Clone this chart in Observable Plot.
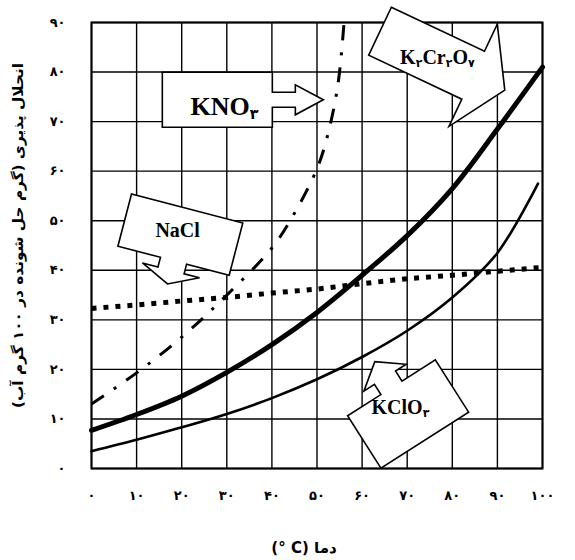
<!DOCTYPE html>
<html>
<head>
<meta charset="utf-8">
<script src="https://cdn.jsdelivr.net/npm/d3@7"></script>
<script src="https://cdn.jsdelivr.net/npm/@observablehq/plot@0.6"></script>
<style>
  html, body { margin: 0; padding: 0; background: #fff; }
</style>
</head>
<body>
<div id="chart"></div>
<script>
// ---- data ----
const xTicks = [0, 10, 20, 30, 40, 50, 60, 70, 80, 90, 100];
const yTicks = [0, 10, 20, 30, 40, 50, 60, 70, 80, 90];

const temps = [0, 10, 20, 30, 40, 50, 60, 70, 80, 90, 100];
const naclValues = [32.3, 33.0, 33.8, 34.5, 35.4, 36.2, 37.3, 38.3, 39.0, 39.8, 40.6];
const k2cr2o7Values = [7.7, 10.9, 14.6, 19.4, 25.0, 31.5, 39.0, 47.0, 56.5, 68.5, 81.0];

const kclo3Temps = [0, 10, 20, 30, 40, 50, 60, 70, 80, 90, 99];
const kclo3Values = [3.5, 5.8, 8.3, 11.0, 14.2, 18.0, 22.5, 27.8, 34.5, 43.5, 57.5];

const kno3Temps = [0, 10, 20, 30, 40, 45, 50, 52, 54, 55, 56];
const kno3Values = [13.0, 19.3, 26.5, 35.0, 44.5, 51.5, 60.5, 66.0, 74.0, 80.0, 90.0];

const xTitle = "\u202Bدما (C °)\u202C";
const yTitle = "\u202Bانحلال پذیری (گرم حل شونده در ۱۰۰ گرم آب)\u202C";

// callout annotations (anchor in data units)
const callouts = [
  {label: "KNO۳", x: 27.9, y: 74.4, tx: 29.5, ty: 73.0, size: 26},
  {label: "NaCl", x: 19.7, y: 47.2, tx: 19.1, ty: 48.0, size: 20},
  {label: "K۲Cr۲O۷", x: 74.3, y: 83.8, tx: 76.7, ty: 82.9, size: 20},
  {label: "KClO۳", x: 70.2, y: 11.0, tx: 68.5, ty: 12.3, size: 20}
];
// callout shapes (pixels)
const calloutShapes = [
  {angle: 0, w: 110, h: 55, side: "right", sw: 15, sl: 23, hw: 30, hl: 28},
  {angle: 14.6, w: 115, h: 54, side: "bottom", sw: 27, sl: 10, hw: 59, hl: 14},
  {angle: 25.3, w: 103, h: 53, side: "right", sw: 53, sl: 0, hw: 113, hl: 35},
  {angle: -32.5, w: 104, h: 62, side: "top", sw: 25, sl: 12, hw: 50, hl: 19}
];

// ---- helpers ----
const faDigits = "۰۱۲۳۴۵۶۷۸۹";
const fa = (n) => String(n).replace(/[0-9]/g, (d) => faDigits[+d]);

function calloutSymbol(c) {
  return {
    draw(ctx) {
      let W = c.w, H = c.h, rot = c.angle;
      if (c.side === "bottom") { W = c.h; H = c.w; rot += 90; }
      else if (c.side === "top") { W = c.h; H = c.w; rot -= 90; }
      const o = c.offset || 0, x0 = W / 2;
      const pts = [
        [-W / 2, -H / 2], [W / 2, -H / 2],
        [x0, o - c.sw / 2], [x0 + c.sl, o - c.sw / 2], [x0 + c.sl, o - c.hw / 2],
        [x0 + c.sl + c.hl, o],
        [x0 + c.sl, o + c.hw / 2], [x0 + c.sl, o + c.sw / 2], [x0, o + c.sw / 2],
        [W / 2, H / 2], [-W / 2, H / 2]
      ];
      const a = rot * Math.PI / 180, cs = Math.cos(a), sn = Math.sin(a);
      pts.forEach(([x, y], i) => {
        const X = x * cs - y * sn, Y = x * sn + y * cs;
        if (i) ctx.lineTo(X, Y); else ctx.moveTo(X, Y);
      });
      ctx.closePath();
    }
  };
}

const naclData = temps.map((t, i) => ({t, v: naclValues[i]}));
const k2Data = temps.map((t, i) => ({t, v: k2cr2o7Values[i]}));
const kclo3Data = kclo3Temps.map((t, i) => ({t, v: kclo3Values[i]}));
const kno3Data = kno3Temps.map((t, i) => ({t, v: kno3Values[i]}));

const calloutMarks = [];
callouts.forEach((c, i) => {
  calloutMarks.push(Plot.dot([c], {x: "x", y: "y", symbol: calloutSymbol(calloutShapes[i]), fill: "white", stroke: "black", strokeWidth: 1.6}));
});
callouts.forEach((c) => {
  calloutMarks.push(Plot.text([c], {x: "tx", y: "ty", text: "label", fontFamily: "Liberation Serif", fontWeight: "bold", fontSize: c.size, fill: "black"}));
});

const chart = Plot.plot({
  width: 575,
  height: 560,
  marginTop: 22,
  marginBottom: 92,
  marginLeft: 91,
  marginRight: 33,
  x: {domain: [0, 100], ticks: xTicks, tickFormat: fa, tickSize: 0, tickPadding: 22, label: null},
  y: {domain: [0, 90], ticks: yTicks, tickFormat: fa, tickSize: 0, tickPadding: 26, label: null},
  style: {fontFamily: "DejaVu Sans", fontSize: "13px", fontWeight: "bold", background: "white", color: "black"},
  marks: [
    Plot.ruleX(xTicks, {stroke: "black", strokeWidth: 1.4}),
    Plot.ruleY(yTicks, {stroke: "black", strokeWidth: 1.4}),
    Plot.frame({stroke: "black", strokeWidth: 2}),
    Plot.line(naclData, {x: "t", y: "v", stroke: "black", strokeWidth: 5, strokeDasharray: "5,7", strokeLinecap: "butt"}),
    Plot.line(kclo3Data, {x: "t", y: "v", stroke: "black", strokeWidth: 2.6, curve: "catmull-rom"}),
    Plot.line(k2Data, {x: "t", y: "v", stroke: "black", strokeWidth: 5, curve: "catmull-rom"}),
    Plot.line(kno3Data, {x: "t", y: "v", stroke: "black", strokeWidth: 3, curve: "catmull-rom", strokeDasharray: "15,12,3,12", strokeLinecap: "butt"}),
    ...calloutMarks,
    Plot.text([xTitle], {frameAnchor: "bottom", dy: 80, dx: -13, text: (d) => d, textAnchor: "middle", lineAnchor: "middle", fontSize: 15, fontFamily: "DejaVu Sans", fill: "black"}),
    Plot.text([yTitle], {frameAnchor: "left", dx: -73, dy: -10, rotate: -90, text: (d) => d, textAnchor: "middle", lineAnchor: "middle", fontSize: 14, fontFamily: "DejaVu Sans", fill: "black"})
  ]
});

chart.querySelectorAll("text").forEach((t) => {
  if (t.querySelector("tspan")) return;
  const s = t.textContent;
  // fit the long Persian y title to the reference length
  if (s === yTitle) {
    t.setAttribute("textLength", "345");
    t.setAttribute("lengthAdjust", "spacingAndGlyphs");
    return;
  }
  // subscript digits in chemical formulas
  if (!(/[A-Za-z]/.test(s) && /[۰-۹]/.test(s))) return;
  t.textContent = "";
  let sub = false;
  for (const ch of s) {
    const isD = /[۰-۹]/.test(ch);
    const ts = document.createElementNS("http://www.w3.org/2000/svg", "tspan");
    ts.textContent = ch;
    if (isD) {
      ts.setAttribute("font-size", "0.55em");
      ts.setAttribute("font-family", "DejaVu Sans");
      if (!sub) ts.setAttribute("dy", "0.25em");
      sub = true;
    } else if (sub) {
      ts.setAttribute("dy", "-0.1375em");
      sub = false;
    }
    t.appendChild(ts);
  }
});

document.getElementById("chart").appendChild(chart);
</script>
</body>
</html>
